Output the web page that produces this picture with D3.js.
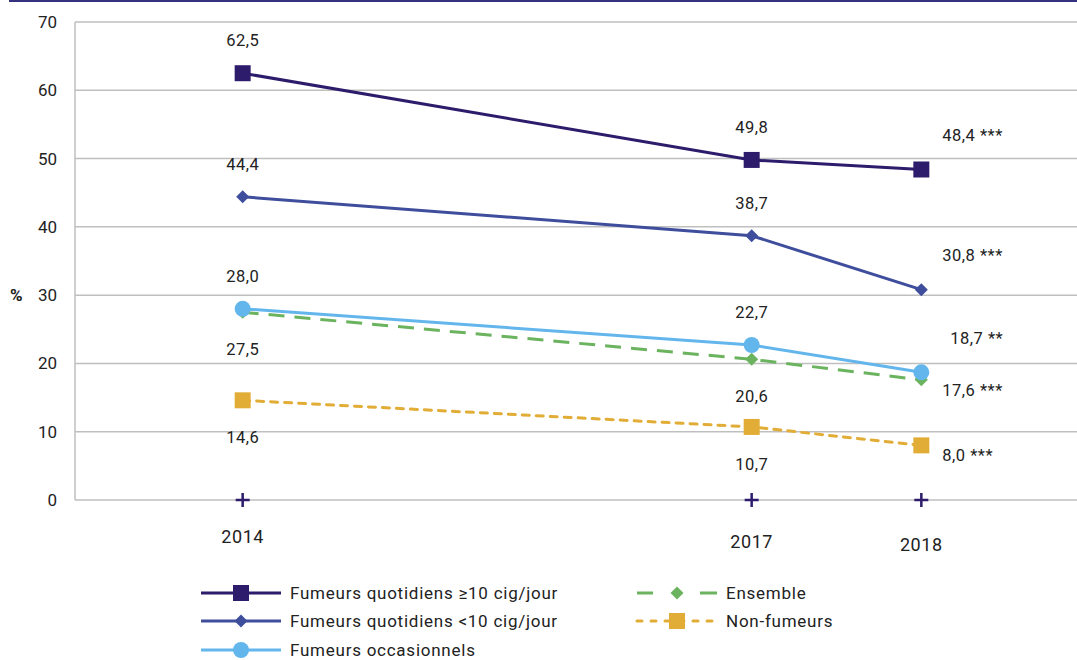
<!DOCTYPE html>
<html><head><meta charset="utf-8">
<script src="https://cdn.jsdelivr.net/npm/d3@7"></script>
<style>
body{margin:0;background:#fff;}
svg{display:block;font-family:Roboto,"Noto Sans",sans-serif;}
</style></head>
<body><svg id="c" width="1077" height="660"></svg>
<script>
const years = [2014, 2017, 2018];
const yTicks = [0, 10, 20, 30, 40, 50, 60, 70];
const seriesNames = ["Fumeurs quotidiens \u226510 cig/jour", "Fumeurs quotidiens <10 cig/jour", "Fumeurs occasionnels", "Ensemble", "Non-fumeurs"];
const quotidiens10 = [62.5, 49.8, 48.4];
const quotidiensMoins10 = [44.4, 38.7, 30.8];
const occasionnels = [28.0, 22.7, 18.7];
const ensemble = [27.5, 20.6, 17.6];
const nonFumeurs = [14.6, 10.7, 8.0];
const signif2018 = ["***", "***", "**", "***", "***"];

const styles = [
  {color:"#2d1b6b", marker:"square", size:16, dash:null, label:"above"},
  {color:"#3f4e9c", marker:"diamond", size:13, dash:null, label:"above"},
  {color:"#63b6ec", marker:"circle", size:16, dash:null, label:"above"},
  {color:"#6bb35e", marker:"diamond", size:13, dash:"16,10", label:"below"},
  {color:"#e2ad37", marker:"square", size:16, dash:"7,7", label:"below"}
];
const allValues = [quotidiens10, quotidiensMoins10, occasionnels, ensemble, nonFumeurs];

const svg = d3.select("#c");
const x = d3.scaleLinear().domain([2013, 2019]).range([73, 1091]);
const y = d3.scaleLinear().domain([0, 70]).range([500, 22]);
const plotLeft = 75;

// top rule
svg.append("line").attr("x1", 9).attr("x2", 1077).attr("y1", 1).attr("y2", 1)
  .attr("stroke", "#34327f").attr("stroke-width", 2);

// gridlines
svg.append("g").selectAll("line").data(yTicks).join("line")
  .attr("x1", plotLeft).attr("x2", 1077)
  .attr("y1", d => y(d)).attr("y2", d => y(d))
  .attr("stroke", "#bfbfbf").attr("stroke-width", 1.5);
svg.append("line").attr("x1", plotLeft).attr("x2", plotLeft).attr("y1", y(70)).attr("y2", y(0))
  .attr("stroke", "#bfbfbf").attr("stroke-width", 1.5);

// y axis labels
const yAxis = d3.axisLeft(y).tickValues(yTicks).tickSize(0).tickPadding(18);
const ga = svg.append("g").attr("transform", `translate(${plotLeft},0)`).call(yAxis);
ga.select(".domain").remove();
ga.selectAll("text").attr("font-size", 17).attr("fill", "#222").attr("font-family", "Roboto,sans-serif");
svg.append("text").attr("x", 10).attr("y", y(30)).attr("dy", "0.35em")
  .attr("font-size", 17).attr("font-weight", "bold").attr("fill", "#222").text("%");

// x ticks (+ marks)
svg.append("g").selectAll("path").data(years).join("path")
  .attr("d", d => `M${x(d)-7},${y(0)}H${x(d)+7}M${x(d)},${y(0)-7}V${y(0)+7}`)
  .attr("stroke", "#2d1b6b").attr("stroke-width", 2.5);
const yearDy = [37, 42, 45];
svg.append("g").selectAll("text").data(years).join("text")
  .attr("x", d => x(d)).attr("y", (d, i) => y(0) + yearDy[i]).attr("dy", "0.35em")
  .attr("text-anchor", "middle").attr("font-size", 18).attr("letter-spacing", "0.6px")
  .attr("fill", "#222").text(d => d);

function markerPath(type, s) {
  if (type === "square") return d3.symbol(d3.symbolSquare, s * s)();
  if (type === "diamond") return `M0,${-s/2}L${s/2},0L0,${s/2}L${-s/2},0Z`;
  return d3.symbol(d3.symbolCircle, Math.PI * (s/2) * (s/2))();
}

const line = d3.line().x((d, i) => x(years[i])).y(d => y(d));
const fmt = v => d3.format(".1f")(v).replace(".", ",");

// draw bottom series first
const order = [4, 3, 2, 1, 0];
order.forEach(k => {
  const st = styles[k], vals = allValues[k];
  const g = svg.append("g");
  g.append("path").datum(vals).attr("d", line).attr("fill", "none")
    .attr("stroke", st.color).attr("stroke-width", 3)
    .attr("stroke-dasharray", st.dash).attr("stroke-linecap", st.dash === "7,7" ? "round" : "butt");
  g.selectAll("path.m").data(vals).join("path").attr("class", "m")
    .attr("transform", (d, i) => `translate(${x(years[i])},${y(d)})`)
    .attr("d", markerPath(st.marker, st.size)).attr("fill", st.color);
});

// labels
allValues.forEach((vals, k) => {
  const st = styles[k];
  vals.forEach((v, i) => {
    const last = i === years.length - 1;
    let tx, ty, anchor, txt = fmt(v);
    if (last) {
      tx = x(years[i]) + 21 + (k === 2 ? 8 : 0);
      ty = y(v) + (st.label === "above" ? -34 : 10);
      anchor = "start";
      txt += " " + signif2018[k];
    } else {
      tx = x(years[i]);
      ty = y(v) + (st.label === "above" ? -33 : 37);
      anchor = "middle";
    }
    svg.append("text").attr("x", tx).attr("y", ty).attr("dy", "0.35em")
      .attr("text-anchor", anchor).attr("font-size", 16.5).attr("letter-spacing", "0.5px")
      .attr("fill", "#222").text(txt);
  });
});

// legend
const legendPos = [[201, 593], [201, 621], [201, 650], [637, 593], [637, 621]];
seriesNames.forEach((name, k) => {
  const st = styles[k];
  const [lx, ly] = legendPos[k];
  const g = svg.append("g").attr("transform", `translate(${lx},${ly})`);
  if (k === 3) {
    g.append("path").attr("d", "M0,0H16M63,0H80").attr("stroke", st.color).attr("stroke-width", 3);
  } else if (k === 4) {
    g.append("path").attr("d", "M0,0H80").attr("stroke", st.color).attr("stroke-width", 3)
      .attr("stroke-dasharray", "5,9").attr("stroke-linecap", "round");
  } else {
    g.append("path").attr("d", "M0,0H80").attr("stroke", st.color).attr("stroke-width", 3);
  }
  g.append("path").attr("transform", "translate(40,0)").attr("d", markerPath(st.marker, st.size)).attr("fill", st.color);
  g.append("text").attr("x", 89).attr("dy", "0.35em").attr("font-size", 17).attr("letter-spacing", "0.75px")
    .attr("fill", "#222").text(name);
});
</script></body></html>
